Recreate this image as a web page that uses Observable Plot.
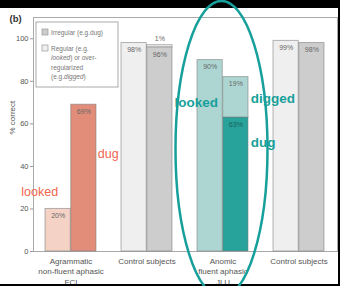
<!DOCTYPE html>
<html>
<head>
<meta charset="utf-8">
<script src="https://cdn.jsdelivr.net/npm/d3@7"></script>
<script src="https://cdn.jsdelivr.net/npm/@observablehq/plot@0.6"></script>
<style>
  html, body { margin: 0; padding: 0; background: #000; }
  #chart svg { display: block; }
</style>
</head>
<body>
<div id="chart"></div>
<script>
// ---- data ----
const groupKeys = ["FCI", "C1", "JLU", "C2"];
const groupLabels = ["Agrammatic\nnon-fluent aphasic\nFCI", "Control subjects", "Anomic\nfluent aphasic\nJLU", "Control subjects"];
const regularPct = [20, 98, 90, 99];     // regular / over-regularized (left bar)
const irregularPct = [69, 96, 63, 98];   // irregular (right bar)
const overregPct = [0, 1, 19, 0];        // over-regularized stacked on irregular
const yTicks = [0, 20, 40, 60, 80, 100];

const annoGroup = ["FCI", "FCI", "JLU", "JLU", "JLU"];
const annoText = ["looked", "dug", "looked", "digged", "dug"];
const annoValue = [28, 46, 70, 72, 51];
const annoSide = ["leftbar", "right", "left", "right", "right"];

// ---- styles ----
const palette = {
  FCI: {light: "#f4d2c5", dark: "#e18d79", label: "#666"},
  C1:  {light: "#efefef", dark: "#cdcdcd", label: "#666"},
  JLU: {light: "#add6d2", dark: "#28a39b", label: "#666", darkLabel: "#165e5a"},
  C2:  {light: "#efefef", dark: "#cdcdcd", label: "#666"}
};
const salmon = "#f1654f";
const teal = "#17a09b";

const W = 340, H = 286;
const mL = 33, mR = 3, mT = 17, mB = 35;
const pIn = 0.325, pOut = 0.156;
const xb = d3.scaleBand(groupKeys, [mL, W - mR]).paddingInner(pIn).paddingOuter(pOut);
const half = xb.bandwidth() / 2;

const rows = groupKeys.map((g, i) => ({g, reg: regularPct[i], irr: irregularPct[i], over: overregPct[i]}));
const annos = annoText.map((t, i) => ({g: annoGroup[i], text: t, v: annoValue[i], side: annoSide[i]}));

const barStroke = {stroke: "#7a7a7a", strokeOpacity: 0.55, strokeWidth: 1};
const font = "Liberation Sans, Arial, Helvetica, sans-serif";
const xLabel = d => groupLabels[groupKeys.indexOf(d)];

const plot = Plot.plot({
  width: W, height: H,
  marginLeft: mL, marginRight: mR, marginTop: mT, marginBottom: mB,
  style: {fontFamily: font, background: "white"},
  x: {domain: groupKeys, paddingInner: pIn, paddingOuter: pOut, label: null, tickFormat: xLabel},
  y: {domain: [0, 110], label: null},
  color: {type: "identity"},
  marks: [
    Plot.frame({stroke: "#aaa"}),
    Plot.axisY({ticks: yTicks, tickSize: 3, tickPadding: 2, fontSize: 7.5, color: "#555", label: null, stroke: "#999"}),
    Plot.axisX({tickSize: 0, tickPadding: 5, fontSize: 8, lineHeight: 1.3, color: "#555", label: null, tickFormat: xLabel}),
    Plot.barY(rows, {x: "g", y1: 0, y2: "reg", fill: d => palette[d.g].light, insetRight: half, ...barStroke}),
    Plot.barY(rows, {x: "g", y1: 0, y2: "irr", fill: d => palette[d.g].dark, insetLeft: half, ...barStroke}),
    Plot.barY(rows.filter(d => d.over > 0), {x: "g", y1: "irr", y2: d => d.irr + d.over, fill: d => palette[d.g].light, insetLeft: half, ...barStroke}),
    Plot.text(rows, {x: "g", y: "reg", text: d => d.reg + "%", dx: -half / 2, dy: 7, fontSize: 7, fill: "#666"}),
    Plot.text(rows, {x: "g", y: "irr", text: d => d.irr + "%", dx: half / 2, dy: 7, fontSize: 7, fill: d => palette[d.g].darkLabel || palette[d.g].label}),
    Plot.text(rows.filter(d => d.over >= 5), {x: "g", y: d => d.irr + d.over, text: d => d.over + "%", dx: half / 2, dy: 7, fontSize: 7, fill: "#666"}),
    Plot.text(rows.filter(d => d.over > 0 && d.over < 5), {x: "g", y: d => d.irr + d.over, text: d => d.over + "%", dx: half / 2, dy: -6, fontSize: 7, fill: "#666"}),
    // annotations
    Plot.text(annos.filter(d => d.g === "FCI" && d.side === "leftbar"), {x: "g", y: "v", text: "text", textAnchor: "end", dx: -half / 2, fontSize: 12.5, fill: salmon}),
    Plot.text(annos.filter(d => d.g === "FCI" && d.side === "right"), {x: "g", y: "v", text: "text", textAnchor: "start", dx: half + 1, fontSize: 12.5, fill: salmon}),
    Plot.text(annos.filter(d => d.g === "JLU" && d.side === "left"), {x: "g", y: "v", text: "text", textAnchor: "end", dx: -5, fontSize: 13.5, fontWeight: "bold", fill: teal}),
    Plot.text(annos.filter(d => d.g === "JLU" && d.side === "right"), {x: "g", y: "v", text: "text", textAnchor: "start", dx: half + 2, fontSize: 13.5, fontWeight: "bold", fill: teal}),
    // y label and panel letter
    Plot.text(["% correct"], {frameAnchor: "left", dx: -21, rotate: -90, fontSize: 8, fill: "#555"}),
    Plot.text(["(b)"], {frameAnchor: "top-left", textAnchor: "start", dx: -24, dy: -2, fontSize: 9.5, fontWeight: "bold", fill: "#333"})
  ]
});

document.getElementById("chart").appendChild(plot);

// ---- decorations: legend, black photo borders, hand-drawn ellipse ----
const svg = d3.select(plot);
const xs = plot.scale("x");
const ys = plot.scale("y");

// black borders of the photographed figure
const borders = svg.append("g").attr("fill", "#000");
borders.append("rect").attr("x", 0).attr("y", 0).attr("width", W).attr("height", 8);
borders.append("rect").attr("x", 0).attr("y", 284).attr("width", W).attr("height", H - 284);
borders.append("rect").attr("x", W - 2).attr("y", 0).attr("width", 2).attr("height", H);

// legend
const lg = svg.append("g").attr("font-family", font).attr("font-size", 6.5)
  .attr("fill", "#777").attr("text-anchor", "start");
lg.append("rect").attr("x", 36).attr("y", 22).attr("width", 82).attr("height", 65)
  .attr("fill", "white").attr("stroke", "#aaa");
lg.append("rect").attr("x", 42).attr("y", 29).attr("width", 6).attr("height", 6)
  .attr("fill", palette.C1.dark).attr("stroke", "#999").attr("stroke-width", 0.7);
lg.append("rect").attr("x", 42).attr("y", 45).attr("width", 6).attr("height", 6)
  .attr("fill", palette.C1.light).attr("stroke", "#999").attr("stroke-width", 0.7);
lg.append("text").attr("x", 51).attr("y", 35).text("Irregular (e.g.dug)");
const t2 = lg.append("text").attr("x", 51).attr("y", 51);
t2.append("tspan").attr("x", 51).text("Regular (e.g.");
const l2 = t2.append("tspan").attr("x", 51).attr("dy", 9.3);
l2.append("tspan").attr("font-style", "italic").text("looked");
l2.append("tspan").text(") or over-");
t2.append("tspan").attr("x", 51).attr("dy", 9.3).text("regularized");
const l4 = t2.append("tspan").attr("x", 51).attr("dy", 9.3);
l4.append("tspan").text("(e.g.");
l4.append("tspan").attr("font-style", "italic").text("digged");
l4.append("tspan").text(")");

// ellipse round the anomic patient's bars
svg.append("ellipse")
  .attr("cx", xs.apply("JLU") + xs.bandwidth / 2 - 1)
  .attr("cy", ys.apply(48))
  .attr("rx", 46).attr("ry", 148)
  .attr("fill", "none").attr("stroke", teal).attr("stroke-width", 2.5);
</script>
</body>
</html>
